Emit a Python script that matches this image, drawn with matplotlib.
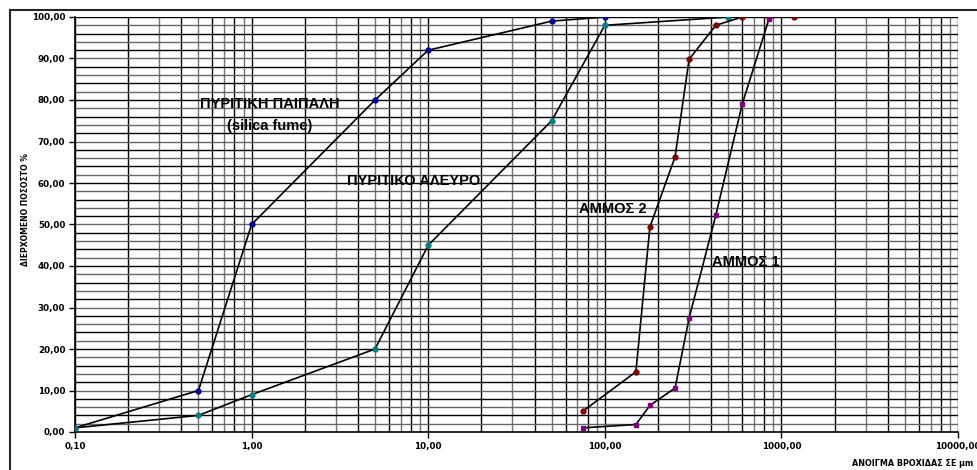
import matplotlib
matplotlib.use("Agg")
import matplotlib.pyplot as plt
from matplotlib.lines import Line2D
from matplotlib.ticker import FixedLocator, FuncFormatter, NullFormatter

# sieve openings (um) and passing percentages for each material
fume_size = [0.1, 0.5, 1, 5, 10, 50, 100, 500]
fume_pass = [1, 10, 50, 80, 92, 99, 100, 100]

flour_size = [0.1, 0.5, 1, 5, 10, 50, 100, 500]
flour_pass = [1, 4, 9, 20, 45, 75, 98, 100]

sand2_size = [75, 150, 180, 250, 300, 425, 600, 850, 1180]
sand2_pass = [5, 14.5, 49.4, 66.3, 89.8, 98, 100, 100, 100]

sand1_size = [75, 150, 180, 250, 300, 425, 600, 850]
sand1_pass = [1, 1.8, 6.4, 10.6, 27.4, 52.2, 79, 99.5]

y_ticks = [0, 10, 20, 30, 40, 50, 60, 70, 80, 90, 100]
x_ticks = [0.1, 1, 10, 100, 1000, 10000]

fig = plt.figure(figsize=(9.77, 4.70), dpi=100)
ax = fig.add_axes([75 / 977, 1 - 432 / 470, (958 - 75) / 977, (432 - 17) / 470])

ax.set_xscale("log")
ax.set_xlim(0.1, 10000)
ax.set_ylim(0, 100)

# dense grid: decades and 2-unit steps
minor_x = [m * 10.0 ** e for e in range(-1, 4) for m in range(2, 10)]
for i, xv in enumerate(minor_x):
    ax.axvline(xv, color="black" if i % 2 == 0 else "0.45", lw=1.0, zorder=1)
for xv in x_ticks:
    ax.axvline(xv, color="black", lw=1.0, zorder=1)
for i, yv in enumerate(range(2, 101, 2)):
    ax.axhline(yv, color="black" if i % 2 else "0.4", lw=1.0, zorder=1)

ax.plot(fume_size, fume_pass, color="black", lw=1.2, marker="o", ms=3.5,
        mfc="#0000cc", mec="#000080", zorder=3)
ax.plot(flour_size, flour_pass, color="black", lw=1.2, marker="o", ms=3.5,
        mfc="#008080", mec="#008080", zorder=3)
ax.plot(sand2_size, sand2_pass, color="black", lw=1.2, marker="o", ms=3.5,
        mfc="#800000", mec="#800000", zorder=3)
ax.plot(sand1_size, sand1_pass, color="black", lw=1.2, marker="s", ms=3.5,
        mfc="#800080", mec="#800080", zorder=3)

lab = dict(fontfamily="Liberation Sans", fontweight="bold", fontsize=10.5,
           ha="center", va="center", zorder=4)
ax.text(1.26, 79.0, "ΠΥΡΙΤΙΚΗ ΠΑΙΠΑΛΗ", **lab)
ax.text(1.26, 73.8, "(silica fume)", **lab)
ax.text(8.3, 60.5, "ΠΥΡΙΤΙΚΟ ΑΛΕΥΡΟ", **lab)
ax.text(111, 53.7, "ΑΜΜΟΣ 2", **lab)
ax.text(627, 41.0, "ΑΜΜΟΣ 1", **lab)

ax.xaxis.set_major_locator(FixedLocator(x_ticks))
ax.xaxis.set_minor_formatter(NullFormatter())
ax.xaxis.set_major_formatter(FuncFormatter(lambda v, p: f"{v:.2f}".replace(".", ",")))
ax.yaxis.set_major_locator(FixedLocator(y_ticks))
ax.yaxis.set_major_formatter(FuncFormatter(lambda v, p: f"{v:.2f}".replace(".", ",")))
ax.tick_params(which="minor", length=0)
ax.tick_params(which="major", length=4, width=1, direction="out", pad=3)
for t in ax.get_xticklabels() + ax.get_yticklabels():
    t.set_fontfamily("DejaVu Sans")
    t.set_fontweight("bold")
    t.set_fontsize(6.3)
ax.tick_params(axis="x", pad=3)

for s in ["top", "right"]:
    ax.spines[s].set_visible(False)
for s in ["left", "bottom"]:
    ax.spines[s].set_linewidth(1.2)

fig.text(26 / 977, 1 - 210 / 470, "ΔΙΕΡΧΟΜΕΝΟ ΠΟΣΟΣΤΟ %", rotation=90,
         ha="center", va="center", fontsize=5.5, fontweight="bold")
fig.text(852 / 977, 1 - 464 / 470, "ΑΝΟΙΓΜΑ ΒΡΟΧΙΔΑΣ ΣΕ μm", ha="left",
         va="center", fontsize=5.8, fontweight="bold")

# chart area border
fig.add_artist(Line2D([10 / 977, 1.0], [1 - 10 / 470] * 2, color="0.15", lw=1.5))
fig.add_artist(Line2D([10 / 977] * 2, [0.0, 1 - 10 / 470], color="0.15", lw=1.5))

fig.savefig("out.png", dpi=100)
